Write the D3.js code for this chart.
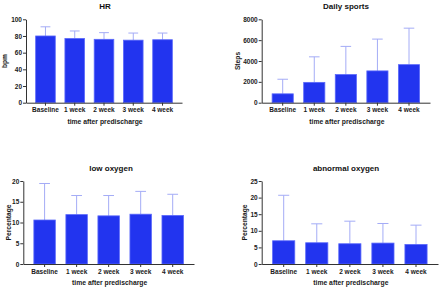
<!DOCTYPE html>
<html>
<head>
<meta charset="utf-8">
<script src="https://cdn.jsdelivr.net/npm/d3@7"></script>
<style>
  html, body { margin: 0; padding: 0; background: #fff; }
  svg { display: block; font-family: "Liberation Sans", Arial, sans-serif; font-weight: bold; }
  .tick text { fill: #1a1a1a; }
</style>
</head>
<body>
<div id="chart"></div>
<script>
// categories and values (mean, sd)
const categories = ['Baseline', '1 week', '2 week', '3 week', '4 week'];

const hrMean = [80, 77, 76, 75, 75.5];
const hrSd = [11, 9, 8, 8.5, 8];

const stepsMean = [850, 1950, 2700, 3050, 3650];
const stepsSd = [1400, 2450, 2700, 3050, 3500];

const lowMean = [10.6, 11.9, 11.6, 12.0, 11.7];
const lowSd = [8.8, 4.6, 4.9, 5.5, 5.1];

const abnMean = [7.0, 6.4, 6.1, 6.3, 5.9];
const abnSd = [13.7, 5.7, 6.8, 5.9, 5.8];

const hrTicks = [0, 20, 40, 60, 80, 100];
const stepsTicks = [0, 2000, 4000, 6000, 8000];
const lowTicks = [0, 5, 10, 15, 20];
const abnTicks = [0, 5, 10, 15, 20, 25];

const xTitle = 'time after predischarge';

const svg = d3.select('#chart').append('svg')
    .attr('width', 440)
    .attr('height', 291);

// 面板配置
const panels = [
    { title: 'HR', yLabel: 'bpm', mean: hrMean, sd: hrSd, ticks: hrTicks,
      x0: 26, x1: 182, yTop: 19.3, yBot: 102.7, titleX: 105, labelDx: 21 },
    { title: 'Daily sports', yLabel: 'Steps', mean: stepsMean, sd: stepsSd, ticks: stepsTicks,
      x0: 261.7, x1: 430, yTop: 19.3, yBot: 102.7, titleX: 346, labelDx: 24 },
    { title: 'low oxygen', yLabel: 'Percentage', mean: lowMean, sd: lowSd, ticks: lowTicks,
      x0: 23.3, x1: 194, yTop: 181, yBot: 264, titleX: 111, labelDx: 15 },
    { title: 'abnormal oxygen', yLabel: 'Percentage', mean: abnMean, sd: abnSd, ticks: abnTicks,
      x0: 261.7, x1: 438, yTop: 181, yBot: 264, titleX: 346, labelDx: 17 }
];

panels.forEach(drawPanel);

function drawPanel(p) {
    const g = svg.append('g');

    const x = d3.scaleBand()
        .domain(categories)
        .range([p.x0, p.x1])
        .paddingInner(0.33)
        .paddingOuter(0.33);

    const y = d3.scaleLinear()
        .domain([0, d3.max(p.ticks)])
        .range([p.yBot, p.yTop]);

    const rows = categories.map((c, i) => ({ c, m: p.mean[i], s: p.sd[i] }));

    // 误差线
    const capW = x.bandwidth() * 0.5;
    const err = g.selectAll('.err').data(rows).enter().append('g')
        .attr('stroke', '#a4acf6')
        .attr('stroke-width', 1);
    err.append('line')
        .attr('x1', d => x(d.c) + x.bandwidth() / 2)
        .attr('x2', d => x(d.c) + x.bandwidth() / 2)
        .attr('y1', d => y(d.m))
        .attr('y2', d => y(d.m + d.s));
    err.append('line')
        .attr('x1', d => x(d.c) + x.bandwidth() / 2 - capW / 2)
        .attr('x2', d => x(d.c) + x.bandwidth() / 2 + capW / 2)
        .attr('y1', d => y(d.m + d.s))
        .attr('y2', d => y(d.m + d.s));

    // 柱子
    g.selectAll('.bar').data(rows).enter().append('rect')
        .attr('x', d => x(d.c))
        .attr('width', x.bandwidth())
        .attr('y', d => y(d.m))
        .attr('height', d => y(0) - y(d.m))
        .attr('fill', '#2234ef')
        .attr('stroke', '#5a68fa')
        .attr('stroke-width', 0.8);

    // y 轴
    const yAxis = g.append('g')
        .attr('transform', `translate(${p.x0},0)`)
        .call(d3.axisLeft(y).tickValues(p.ticks).tickFormat(d3.format('d'))
            .tickSize(3).tickPadding(1).tickSizeOuter(0));
    yAxis.selectAll('text').style('font-size', '6.5px');

    // x 轴
    const xAxis = g.append('g')
        .attr('transform', `translate(0,${p.yBot})`)
        .call(d3.axisBottom(x).tickSize(3).tickPadding(2).tickSizeOuter(0));
    xAxis.selectAll('text').style('font-size', '6.5px');

    g.selectAll('.domain, .tick line').attr('stroke', '#333').attr('stroke-width', 1);

    // 标题
    g.append('text')
        .attr('x', p.titleX)
        .attr('y', p.yTop - 10.5)
        .attr('text-anchor', 'middle')
        .style('font-size', '8px')
        .attr('fill', '#111')
        .text(p.title);

    g.append('text')
        .attr('x', (p.x0 + p.x1) / 2 + 1)
        .attr('y', p.yBot + 20.8)
        .attr('text-anchor', 'middle')
        .style('font-size', '6.8px')
        .attr('fill', '#1a1a1a')
        .text(xTitle);

    g.append('text')
        .attr('transform', `translate(${p.x0 - p.labelDx},${(p.yTop + p.yBot) / 2}) rotate(-90)`)
        .attr('text-anchor', 'middle')
        .attr('dy', '0.35em')
        .style('font-size', '6.7px')
        .attr('fill', '#1a1a1a')
        .text(p.yLabel);
}
</script>
</body>
</html>
